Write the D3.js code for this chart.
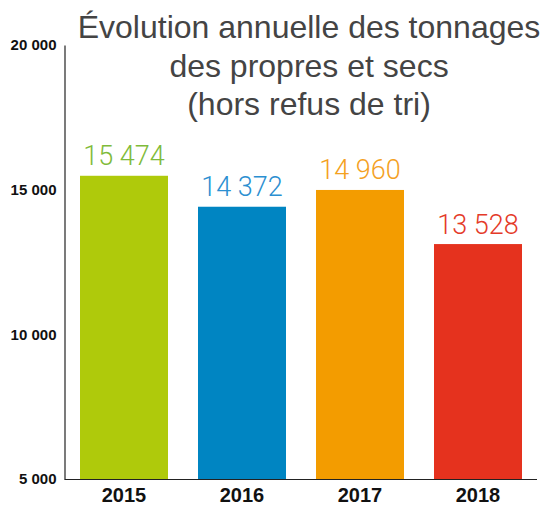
<!DOCTYPE html>
<html>
<head>
<meta charset="utf-8">
<script src="https://cdn.jsdelivr.net/npm/d3@7"></script>
<style>
  body { margin: 0; background: #fff; }
  svg { display: block; }
</style>
</head>
<body>
<div class="container"></div>
<script>
// donnees
var years = ['2015', '2016', '2017', '2018'];
var barValues = [15480, 14410, 14990, 13120];   // hauteur des barres
var valueLabels = ['15 474', '14 372', '14 960', '13 528'];
var barColors = ['#afca0b', '#0085c2', '#f39c00', '#e5321e'];
var labelColors = ['#7fbb3a', '#2b8fd1', '#f4a11f', '#e43a28'];
var yTicks = [5000, 10000, 15000, 20000];
var titleLines = ['Évolution annuelle des tonnages', 'des propres et secs', '(hors refus de tri)'];

var width = 544, height = 506;

var svg = d3.select('.container').append('svg')
	.attr('width', width)
	.attr('height', height);

var x_scale = d3.scaleBand()
	.domain(years)
	.range([80, 522])
	.paddingInner(30 / 118)
	.paddingOuter(0);

var y_scale = d3.scaleLinear()
	.domain([5000, 20000])
	.range([479, 45]);

// axe y : juste la ligne et les labels
var y_axis = d3.axisLeft(y_scale)
	.tickValues(yTicks)
	.tickSize(0)
	.tickPadding(8)
	.tickFormat(function(d) { return d3.format(',')(d).replace(',', ' '); });

// barres
svg.selectAll('rect.bar')
	.data(barValues)
	.enter()
	.append('rect')
	.attr('class', 'bar')
	.attr('x', function(d, i) { return x_scale(years[i]); })
	.attr('y', function(d) { return y_scale(d); })
	.attr('width', x_scale.bandwidth())
	.attr('height', function(d) { return y_scale(5000) - y_scale(d); })
	.attr('fill', function(d, i) { return barColors[i]; });

var gy = svg.append('g')
	.attr('transform', 'translate(64.5,0)')
	.call(y_axis);
gy.select('.domain').attr('stroke', '#222').attr('stroke-width', 1.2);
gy.selectAll('text')
	.attr('font-family', 'Liberation Sans, Arial, sans-serif')
	.attr('font-weight', 'bold')
	.attr('font-size', 15)
	.attr('fill', '#111');

// ligne de base
var x_axis = d3.axisBottom(x_scale).tickSize(0).tickPadding(9);
var gx = svg.append('g')
	.attr('transform', 'translate(0,' + y_scale(5000) + ')')
	.call(x_axis);
gx.select('.domain').attr('d', 'M64.5,0.5H537').attr('stroke', '#222').attr('stroke-width', 1.2);
gx.selectAll('text')
	.attr('font-family', 'Liberation Sans, Arial, sans-serif')
	.attr('font-weight', 'bold')
	.attr('font-size', 20)
	.attr('fill', '#111');

// valeurs au dessus des barres
svg.selectAll('text.val')
	.data(barValues)
	.enter()
	.append('text')
	.attr('class', 'val')
	.attr('x', function(d, i) { return x_scale(years[i]) + x_scale.bandwidth() / 2; })
	.attr('y', function(d) { return y_scale(d) - 10.5; })
	.attr('text-anchor', 'middle')
	.attr('font-family', 'Roboto, Liberation Sans, sans-serif')
	.attr('font-weight', 300)
	.attr('font-size', 27)
	.attr('fill', function(d, i) { return labelColors[i]; })
	.text(function(d, i) { return valueLabels[i]; });

// titre
svg.append('text')
	.attr('text-anchor', 'middle')
	.attr('font-family', 'Liberation Sans, Arial, sans-serif')
	.attr('font-size', 32)
	.attr('fill', '#444')
	.selectAll('tspan')
	.data(titleLines)
	.enter()
	.append('tspan')
	.attr('x', 309)
	.attr('y', function(d, i) { return 38 + i * 38.5; })
	.text(function(d) { return d; });
</script>
</body>
</html>
